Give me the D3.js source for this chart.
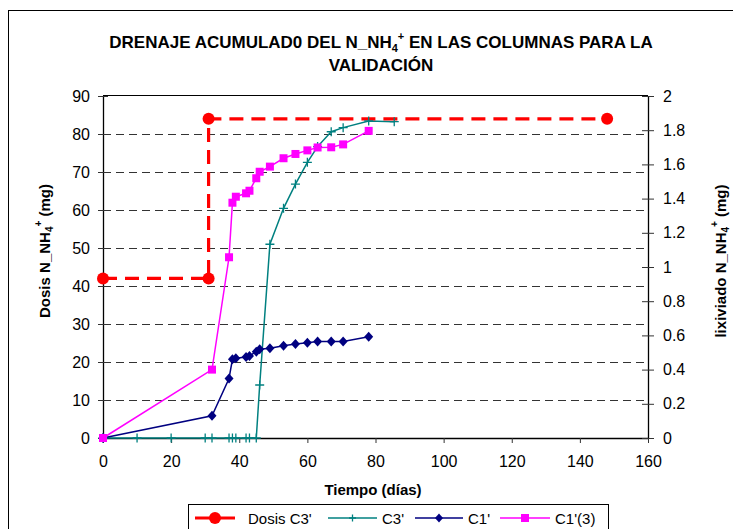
<!DOCTYPE html>
<html>
<head>
<meta charset="utf-8">
<script src="https://cdn.jsdelivr.net/npm/d3@7"></script>
<style>
  html, body { margin: 0; padding: 0; background: #fff; }
  svg { display: block; font-family: "Liberation Sans", Arial, sans-serif; }
</style>
</head>
<body>
<svg id="chart" width="733" height="529"></svg>
<script>
// Sampling days and accumulated leached N-NH4+ (mg) per column
const daysC3 = [0, 10, 20, 30, 32, 37, 38, 39, 42, 43, 45, 46, 49, 53, 56.5, 60, 63, 67, 70.5, 78, 85.5];
const valC3  = [0, 0, 0, 0, 0, 0, 0, 0, 0, 0, 0, 0.31, 1.133, 1.343, 1.485, 1.612, 1.704, 1.791, 1.815, 1.854, 1.85];

const daysC1 = [0, 32, 37, 38, 39, 42, 43, 45, 46, 49, 53, 56.5, 60, 63, 67, 70.5, 78];
const valC1  = [0, 0.13, 0.348, 0.46, 0.466, 0.474, 0.48, 0.505, 0.519, 0.525, 0.54, 0.55, 0.557, 0.565, 0.565, 0.565, 0.592];

const daysC13 = [0, 32, 37, 38, 39, 42, 43, 45, 46, 49, 53, 56.5, 60, 63, 67, 70.5, 78];
const valC13  = [0, 0.40, 1.057, 1.376, 1.411, 1.431, 1.446, 1.519, 1.557, 1.587, 1.636, 1.661, 1.682, 1.699, 1.70, 1.717, 1.796];

// Applied dose (mg) for column C3'
const daysDosis = [0, 31, 31, 148];
const valDosis  = [42, 42, 84, 84];

const xTicks = [0, 20, 40, 60, 80, 100, 120, 140, 160];
const yLeftTicks = [0, 10, 20, 30, 40, 50, 60, 70, 80, 90];
const yRightTicks = [0, 0.2, 0.4, 0.6, 0.8, 1, 1.2, 1.4, 1.6, 1.8, 2];

const svg = d3.select("#chart");
const L = 103, R = 648, T = 96, B = 438;

const x = d3.scaleLinear().domain([0, 160]).range([L, R]);
const yL = d3.scaleLinear().domain([0, 90]).range([B, T]);
const yR = d3.scaleLinear().domain([0, 2]).range([B, T]);

// outer chart frame
svg.append("rect").attr("x", 8.5).attr("y", 10.5).attr("width", 740).attr("height", 540)
  .attr("fill", "#fff").attr("stroke", "#000").attr("stroke-width", 1);

// title
const title = svg.append("text").attr("x", 381).attr("y", 48).attr("text-anchor", "middle")
  .attr("font-weight", "bold").attr("font-size", 17).attr("fill", "#000");
title.append("tspan").text("DRENAJE ACUMULAD0 DEL N_NH");
title.append("tspan").attr("font-size", 11).attr("dy", 4).text("4");
title.append("tspan").attr("font-size", 11).attr("dy", -12).text("+");
title.append("tspan").attr("dy", 8).text("  EN LAS COLUMNAS PARA LA");
svg.append("text").attr("x", 381).attr("y", 71).attr("text-anchor", "middle")
  .attr("font-weight", "bold").attr("font-size", 17).text("VALIDACIÓN");

// horizontal dashed gridlines
svg.append("g").selectAll("line").data(yLeftTicks.filter(d => d > 0 && d < 90)).join("line")
  .attr("x1", L).attr("x2", R)
  .attr("y1", d => Math.round(yL(d)) + 0.5).attr("y2", d => Math.round(yL(d)) + 0.5)
  .attr("stroke", "#333").attr("stroke-width", 1).attr("stroke-dasharray", "8,5");

// plot-area top border
svg.append("line").attr("x1", L).attr("x2", R).attr("y1", T - 0.5).attr("y2", T - 0.5)
  .attr("stroke", "#000").attr("stroke-width", 1);

// axes
function styleAxis(g) {
  g.select(".domain").attr("stroke", "#000").attr("stroke-width", 1.3);
  g.selectAll(".tick line").attr("stroke", "#333");
  g.selectAll(".tick text").attr("font-size", 16).attr("fill", "#000")
    .attr("font-family", "'Liberation Sans', Arial, sans-serif");
}
const gx = svg.append("g").attr("transform", `translate(0,${B})`)
  .call(d3.axisBottom(x).tickValues(xTicks).tickSize(5).tickSizeOuter(0).tickPadding(13));
styleAxis(gx);

const gl = svg.append("g").attr("transform", `translate(${L},0)`)
  .call(d3.axisLeft(yL).tickValues(yLeftTicks).tickSize(5).tickSizeOuter(0).tickPadding(8));
styleAxis(gl);
gl.selectAll(".tick line").attr("x1", 5).attr("x2", -5);

const gr = svg.append("g").attr("transform", `translate(${R},0)`)
  .call(d3.axisRight(yR).tickValues(yRightTicks).tickFormat(d3.format("")).tickSize(6).tickSizeOuter(0).tickPadding(9));
styleAxis(gr);
gr.selectAll(".tick line").attr("x1", -6).attr("x2", 6);

// axis titles
svg.append("text").attr("x", 373).attr("y", 495).attr("text-anchor", "middle")
  .attr("font-weight", "bold").attr("font-size", 15).text("Tiempo (días)");

function axisTitle(cx, cy, pre) {
  const t = svg.append("text").attr("transform", `translate(${cx},${cy}) rotate(-90)`)
    .attr("text-anchor", "middle").attr("font-weight", "bold").attr("font-size", 15);
  t.append("tspan").text(pre + " N_NH");
  t.append("tspan").attr("font-size", 10).attr("dy", 3).text("4");
  t.append("tspan").attr("font-size", 10).attr("dy", -11).text("+");
  t.append("tspan").attr("dy", 8).text(" (mg)");
}
axisTitle(50, 251, "Dosis");
axisTitle(726, 261, "lixiviado");

// series lines
const lineR = d3.line().x(d => x(d[0])).y(d => yR(d[1]));
const lineL = d3.line().x(d => x(d[0])).y(d => yL(d[1]));

const sC3 = d3.zip(daysC3, valC3);
const sC1 = d3.zip(daysC1, valC1);
const sC13 = d3.zip(daysC13, valC13);
const sDos = d3.zip(daysDosis, valDosis);

svg.append("path").datum(sC3).attr("d", lineR).attr("fill", "none").attr("stroke", "#008080").attr("stroke-width", 1.5);
svg.append("path").datum(sC1).attr("d", lineR).attr("fill", "none").attr("stroke", "#000080").attr("stroke-width", 1.5);
svg.append("path").datum(sC13).attr("d", lineR).attr("fill", "none").attr("stroke", "#FF00FF").attr("stroke-width", 1.5);
svg.append("path").datum(sDos).attr("d", lineL).attr("fill", "none").attr("stroke", "#FF0000")
  .attr("stroke-width", 3.2).attr("stroke-dasharray", "14,8");

// markers
function plusPath(s) { return `M${-s},0H${s}M0,${-s}V${s}`; }
svg.append("g").selectAll("path").data(sC3).join("path")
  .attr("transform", d => `translate(${x(d[0])},${yR(d[1])})`)
  .attr("d", plusPath(4.5)).attr("stroke", "#008080").attr("stroke-width", 1.3).attr("fill", "none");

svg.append("g").selectAll("path").data(sC1).join("path")
  .attr("transform", d => `translate(${x(d[0])},${yR(d[1])})`)
  .attr("d", "M0,-5L4.5,0L0,5L-4.5,0Z").attr("fill", "#000080");

svg.append("g").selectAll("rect").data(sC13).join("rect")
  .attr("x", d => x(d[0]) - 4).attr("y", d => yR(d[1]) - 4).attr("width", 8).attr("height", 8)
  .attr("fill", "#FF00FF");

svg.append("g").selectAll("circle").data(sDos).join("circle")
  .attr("cx", d => x(d[0])).attr("cy", d => yL(d[1])).attr("r", 6).attr("fill", "#FF0000");

// legend
const lg = svg.append("g");
lg.append("rect").attr("x", 188.5).attr("y", 504.5).attr("width", 420).attr("height", 40)
  .attr("fill", "#fff").attr("stroke", "#000");
const ly = 518;
const legendItems = [
  { label: "Dosis C3'", color: "#FF0000", x1: 195, x2: 235, tx: 248, w: 3, mark: "circle" },
  { label: "C3'", color: "#008080", x1: 328, x2: 377, tx: 382, w: 1.5, mark: "plus" },
  { label: "C1'", color: "#000080", x1: 415, x2: 463, tx: 468, w: 1.5, mark: "diamond" },
  { label: "C1'(3)", color: "#FF00FF", x1: 500, x2: 550, tx: 555, w: 1.5, mark: "square" }
];
legendItems.forEach(it => {
  lg.append("line").attr("x1", it.x1).attr("x2", it.x2).attr("y1", ly).attr("y2", ly)
    .attr("stroke", it.color).attr("stroke-width", it.w);
  const cx = (it.x1 + it.x2) / 2;
  if (it.mark === "circle") lg.append("circle").attr("cx", cx).attr("cy", ly).attr("r", 6).attr("fill", it.color);
  if (it.mark === "plus") lg.append("path").attr("transform", `translate(${cx},${ly})`).attr("d", plusPath(3.5)).attr("stroke", it.color).attr("stroke-width", 1.3);
  if (it.mark === "diamond") lg.append("path").attr("transform", `translate(${cx},${ly})`).attr("d", "M0,-4.5L4,0L0,4.5L-4,0Z").attr("fill", it.color);
  if (it.mark === "square") lg.append("rect").attr("x", cx - 4).attr("y", ly - 4).attr("width", 8).attr("height", 8).attr("fill", it.color);
  lg.append("text").attr("x", it.tx).attr("y", ly + 5.5).attr("font-size", 15).text(it.label);
});
</script>
</body>
</html>
